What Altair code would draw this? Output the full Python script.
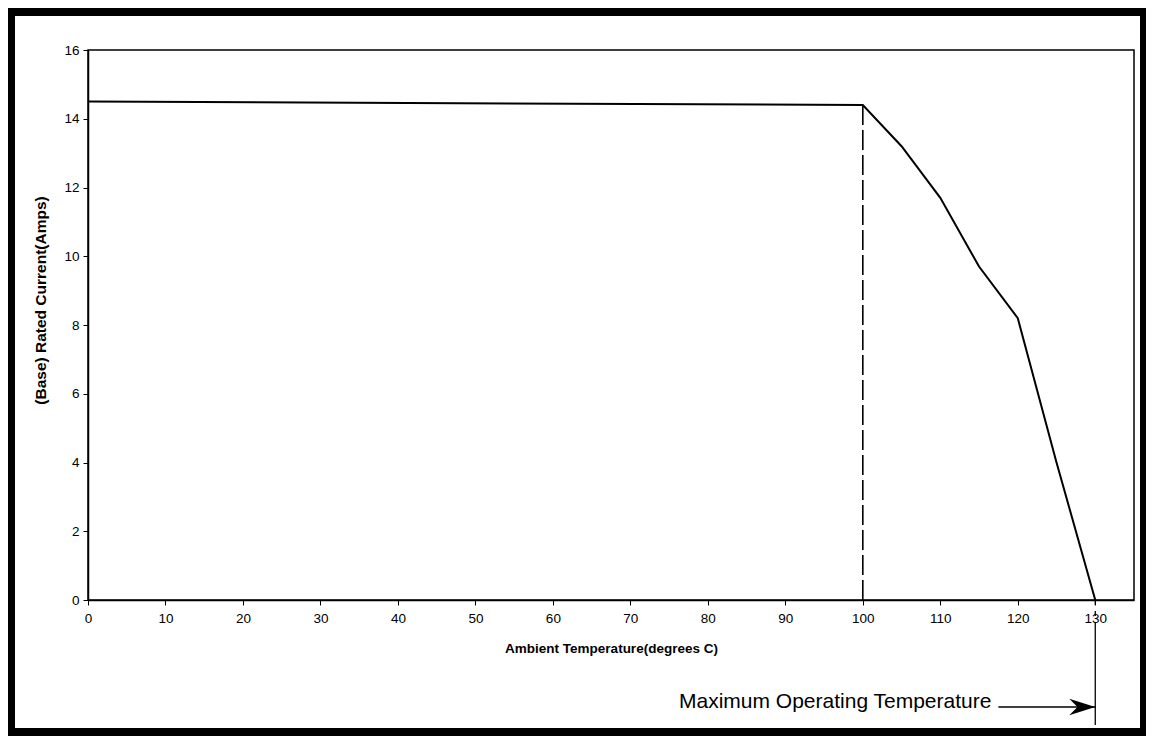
import altair as alt
import pandas as pd

# ---- data ----
temperature = [0, 100, 105, 110, 115, 120, 125, 130]
current = [14.5, 14.4, 13.2, 11.7, 9.7, 8.2, 4.0, 0.0]

x_ticks = list(range(0, 140, 5))
y_ticks = list(range(0, 18, 2))

knee_temp = [100]
knee_current = [14.4]

annot_label = ["Maximum Operating Temperature"]
annot_start = [117.5]
annot_end = [130]

FONT = "Liberation Sans"
W, H = 1046, 550
PAD = {"left": 80, "top": 42, "right": 12, "bottom": 136}

curve = pd.DataFrame({"t": temperature, "i": current})
knee = pd.DataFrame({"t": knee_temp, "i": knee_current, "i0": [0]})
annot = pd.DataFrame({"label": annot_label, "x0": annot_start, "x1": annot_end, "y": [0]})

xscale = alt.Scale(domain=[0, 135], nice=False, zero=False)
yscale = alt.Scale(domain=[0, 16], nice=False)

xaxis = alt.Axis(
    values=x_ticks,
    labelExpr="datum.value % 10 === 0 ? datum.label : ''",
    title="Ambient Temperature(degrees C)",
    titleFont=FONT, titleFontWeight="bold", titleFontSize=13.5, titleColor="black",
    titleX=W / 2, titleY=52, titleBaseline="alphabetic",
    labelFont=FONT, labelFontSize=13.5, labelColor="black", labelPadding=6,
    labelOverlap=False, labelFlush=False,
    tickSize=5, tickColor="black", tickWidth=1,
    domainColor="black", domainWidth=1.5, grid=False,
)
yaxis = alt.Axis(
    values=y_ticks,
    title="(Base) Rated Current(Amps)",
    titleFont=FONT, titleFontWeight="bold", titleFontSize=15.5, titleColor="black",
    titleX=-43, titleY=250, titleBaseline="alphabetic", titleAlign="center", titleAngle=-90,
    labelFont=FONT, labelFontSize=13.5, labelColor="black", labelPadding=4,
    tickSize=5, tickColor="black", tickWidth=1,
    domainColor="black", domainWidth=1.5, grid=False,
)

line = alt.Chart(curve).mark_line(color="black", strokeWidth=2).encode(
    x=alt.X("t:Q", scale=xscale, axis=xaxis),
    y=alt.Y("i:Q", scale=yscale, axis=yaxis),
)

knee_rule = alt.Chart(knee).mark_rule(color="black", strokeWidth=1.6, strokeDash=[20, 5]).encode(
    x="t:Q", y="i:Q", y2="i0:Q"
)

# vertical marker at the maximum operating temperature, below the axis
marker_dash = alt.Chart(annot).mark_rule(color="black", strokeWidth=1.3, strokeDash=[5, 6]).encode(
    x="x1:Q", y=alt.value(H), y2=alt.value(H + 24)
)
marker_solid = alt.Chart(annot).mark_rule(color="black", strokeWidth=1.3).encode(
    x="x1:Q", y=alt.value(H + 24), y2=alt.value(H + 125)
)
arrow_line = alt.Chart(annot).mark_rule(color="black", strokeWidth=1.5).encode(
    x="x0:Q", x2="x1:Q", y=alt.value(657)
)
arrow_head = alt.Chart(annot).mark_point(
    shape="M0,0 L-2.2,-0.7 L-1.5,0 L-2.2,0.7 Z",
    filled=True, fill="black", size=560, strokeWidth=0, opacity=1,
).encode(x="x1:Q", y=alt.value(657))
annot_text = alt.Chart(annot).mark_text(
    align="right", baseline="alphabetic", font=FONT, fontSize=21, color="black", dx=-7
).encode(x="x0:Q", y=alt.value(658), text="label:N")

# scanned-page black frame
one = alt.Data(values=[{"k": 0}])
def band(x0, x1, y0, y1):
    return alt.Chart(one).mark_rect(color="black").encode(
        x=alt.value(x0), x2=alt.value(x1), y=alt.value(y0), y2=alt.value(y1)
    )
TOTAL_W = PAD["left"] + W + PAD["right"]
TOTAL_H = PAD["top"] + H + PAD["bottom"]
left, top = -PAD["left"], -PAD["top"]
right, bottom = TOTAL_W - PAD["left"], TOTAL_H - PAD["top"]
frame = [
    band(left, right, top, top + 8),
    band(left, left + 7, top, bottom),
    band(right - 6, right, top, bottom),
    band(left, right, bottom - 8, bottom),
]

chart = alt.layer(
    *frame, line, knee_rule, marker_dash, marker_solid, arrow_line, arrow_head, annot_text
).properties(
    width=W, height=H,
    autosize=alt.AutoSizeParams(type="none"),
    padding=PAD,
    background="white",
).configure_view(stroke="black", strokeWidth=1.5)

chart.save("out.html", embed_options={"renderer": "svg", "actions": False})
